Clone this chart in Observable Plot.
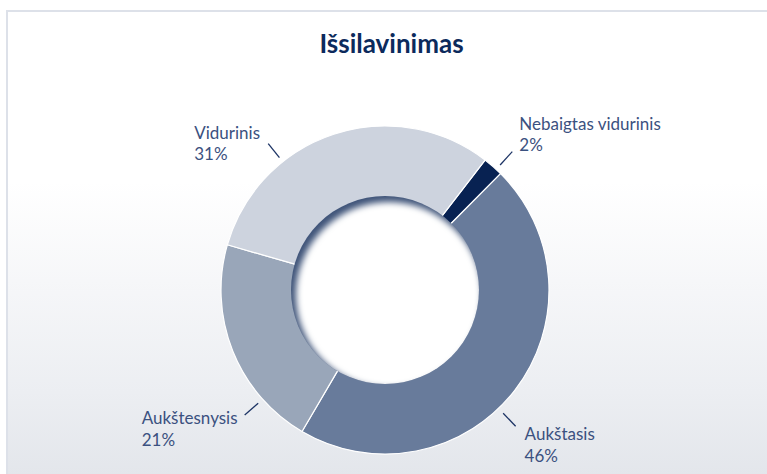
<!DOCTYPE html>
<html><head><meta charset="utf-8">
<script src="https://cdn.jsdelivr.net/npm/d3@7"></script>
<script src="https://cdn.jsdelivr.net/npm/@observablehq/plot@0.6"></script>
<style>
html,body{margin:0;padding:0;background:#fff;}
#wrap{position:relative;width:767px;height:474px;overflow:hidden;background:#fff;}
#frame{position:absolute;left:6px;top:10px;width:820px;height:520px;border:2px solid #dde1e9;box-sizing:border-box;
  background:linear-gradient(to bottom,#ffffff 0px,#ffffff 170px,#eceef2 380px,#e3e6eb 464px);}
#title{position:absolute;left:8px;width:767px;top:27px;text-align:center;font:700 26px Lato,sans-serif;color:#0c2a5c;}
#chart{position:absolute;left:0;top:0;}
</style></head><body>
<div id="wrap"><div id="frame"></div><div id="title">Išsilavinimas</div><div id="chart"></div></div>
<script>
// ---- data ----
const categories = ["Nebaigtas vidurinis", "Aukštasis", "Aukštesnysis", "Vidurinis"];
const values = [2, 46, 21, 31];
const pctLabels = ["2%", "46%", "21%", "31%"];
const colors = ["#082252", "#687b9b", "#99a6b9", "#cdd3de"];

// ---- layout ----
const W = 767, H = 474;
const cx = 385, cy = 290, R = 164, r0 = 94;
const startDeg = 37.6;
const leaderDeg = [42.4, 136.2, 228.5, 321.4];
const leaderR = [170, 188];
const labelOffset = [[7, -22], [9, 14], [-103, 9], [-74, -5]];
const lineGap = 21.5;

const color = Plot.scale({color: {type: "ordinal", domain: categories, range: colors}});

const slices = d3.pie().value(d => d.v).sort(null)
  .startAngle(startDeg * Math.PI / 180).endAngle(startDeg * Math.PI / 180 + 2 * Math.PI)(
    categories.map((c, i) => ({c, v: values[i]})));

function donut(index, scales, vals, dims) {
  const g = d3.create("svg:g");
  const defs = g.append("defs");
  defs.append("clipPath").attr("id", "holeclip").append("circle").attr("cx", cx).attr("cy", cy).attr("r", r0);
  defs.append("filter").attr("id", "blur").attr("x", "-20%").attr("y", "-20%").attr("width", "140%").attr("height", "140%")
    .append("feGaussianBlur").attr("stdDeviation", 3);
  const arc = d3.arc().innerRadius(r0 - 2).outerRadius(R);
  g.append("g").attr("transform", `translate(${cx},${cy})`)
    .selectAll("path").data(slices).join("path")
    .attr("d", arc).attr("fill", d => color.apply(d.data.c))
    .attr("stroke", "#ffffff").attr("stroke-width", 1.2).attr("stroke-linejoin", "round");
  const hole = g.append("g").attr("clip-path", "url(#holeclip)");
  hole.append("circle").attr("cx", cx).attr("cy", cy).attr("r", r0 + 2).attr("fill", "#3f5479");
  hole.append("circle").attr("cx", cx + 4).attr("cy", cy + 5).attr("r", r0 - 1).attr("fill", "#ffffff").attr("filter", "url(#blur)");
  return g.node();
}

const rad = d => d * Math.PI / 180;
const leaders = categories.map((c, i) => {
  const a = rad(leaderDeg[i]);
  return {
    x1: cx + leaderR[0] * Math.sin(a), y1: cy - leaderR[0] * Math.cos(a),
    x2: cx + leaderR[1] * Math.sin(a), y2: cy - leaderR[1] * Math.cos(a)
  };
});
const labels = categories.map((c, i) => ({
  name: c, pct: pctLabels[i],
  x: leaders[i].x2 + labelOffset[i][0],
  y: leaders[i].y2 + labelOffset[i][1]
}));

const chart = Plot.plot({
  width: W, height: H, margin: 0,
  x: {type: "identity", axis: null},
  y: {type: "identity", axis: null},
  style: {background: "transparent", fontFamily: "Lato, sans-serif"},
  marks: [
    donut,
    Plot.link(leaders, {x1: "x1", y1: "y1", x2: "x2", y2: "y2", stroke: "#1d3465", strokeWidth: 1.3}),
    Plot.text(labels, {x: "x", y: "y", text: "name", textAnchor: "start", lineAnchor: "bottom", fontSize: 17, fill: "#3b5180", fontFamily: "Lato"}),
    Plot.text(labels, {x: "x", y: d => d.y + lineGap, text: "pct", textAnchor: "start", lineAnchor: "bottom", fontSize: 17, fill: "#3b5180", fontFamily: "Lato"})
  ]
});
document.getElementById("chart").appendChild(chart);
</script>
</body></html>
